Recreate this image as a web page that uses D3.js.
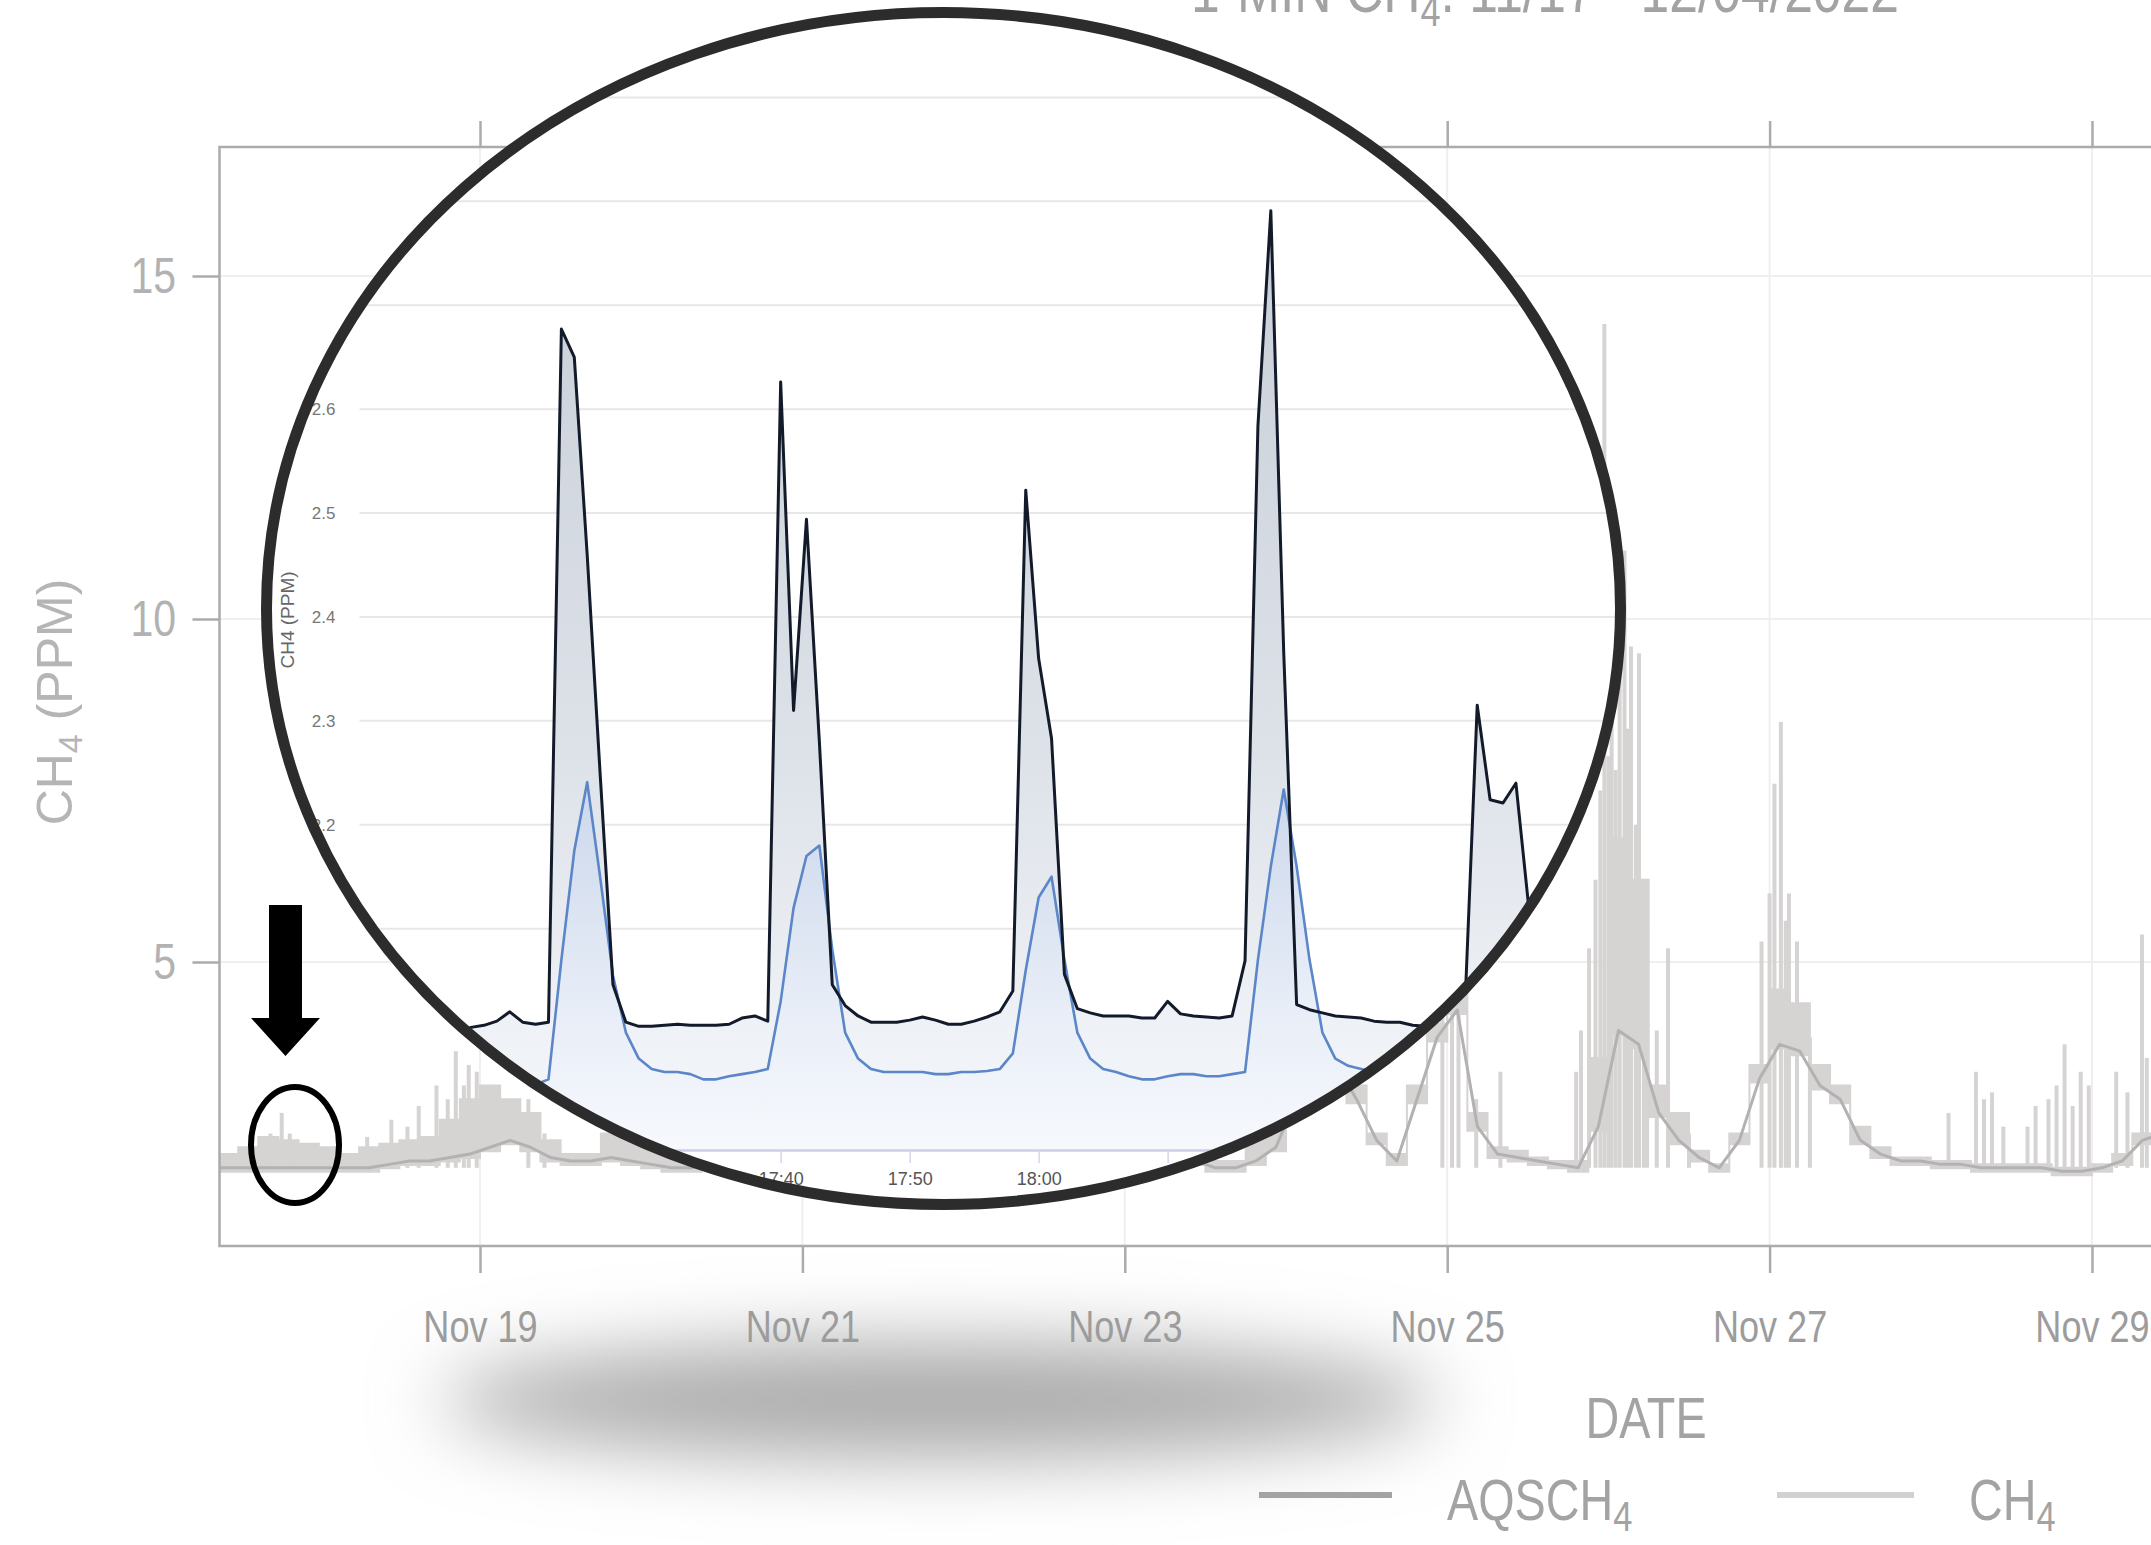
<!DOCTYPE html>
<html>
<head>
<meta charset="utf-8">
<script src="https://cdn.jsdelivr.net/npm/d3@7"></script>
<style>
  body { margin: 0; background: #fff; }
  svg { display: block; }
  text { font-family: "Liberation Sans", Arial, sans-serif; }
</style>
</head>
<body>
<svg id="chart" width="2151" height="1545"></svg>
<script>
// ---- main chart data: 3-hour bins from Nov 17 00:00 (UTC) ----
const aqsch4 = [
  2.0, 2.0, 2.0, 2.0, 2.0, 2.0, 2.0, 2.0,        // Nov 17
  2.0, 2.0, 2.0, 2.05, 2.1, 2.1, 2.15, 2.2,      // Nov 18
  2.3, 2.4, 2.3, 2.15, 2.1, 2.1, 2.15, 2.1,      // Nov 19
  2.05, 2.0, 2.0, 2.05, 2.1, 2.2, 2.3, 2.4,      // Nov 20
  2.6, 2.8, 2.7, 2.5, 2.3, 2.2, 2.2, 2.3,        // Nov 21
  2.5, 2.7, 2.6, 2.4, 2.2, 2.1, 2.1, 2.2,        // Nov 22
  2.3, 2.4, 2.3, 2.1, 2.0, 2.0, 2.1, 2.3,        // Nov 23
  3.0, 3.3, 3.5, 3.0, 2.4, 2.1, 3.0, 3.9,        // Nov 24
  4.3, 2.6, 2.2, 2.15, 2.1, 2.05, 2.0, 2.6,      // Nov 25
  4.0, 3.8, 2.8, 2.4, 2.15, 2.0, 2.4, 3.3,       // Nov 26
  3.8, 3.7, 3.2, 3.0, 2.4, 2.2, 2.1, 2.1,        // Nov 27
  2.05, 2.05, 2.0, 2.0, 2.0, 2.0, 1.95, 1.95,    // Nov 28
  2.0, 2.1, 2.4, 2.5, 2.5, 2.6, 2.6, 2.6         // Nov 29
];
const ch4Top = [
  2.1, 2.1, 2.1, 2.2, 2.3, 2.45, 2.4, 2.35,      // Nov 17
  2.3, 2.2, 2.3, 2.35, 2.4, 2.45, 2.7, 3.0,      // Nov 18
  3.2, 3.0, 2.8, 2.4, 2.2, 2.2, 2.5, 2.4,        // Nov 19
  2.3, 2.2, 2.25, 2.3, 2.5, 2.7, 3.0, 3.4,       // Nov 20
  4.2, 5.0, 4.0, 3.2, 2.7, 2.5, 2.5, 2.8,        // Nov 21
  3.5, 4.0, 3.4, 2.9, 2.5, 2.3, 2.3, 2.5,        // Nov 22
  2.8, 3.0, 2.7, 2.3, 2.1, 2.1, 2.4, 2.9,        // Nov 23
  3.3, 3.6, 3.8, 3.2, 2.5, 2.2, 3.2, 4.1,        // Nov 24
  5.0, 2.8, 2.3, 2.25, 2.15, 2.1, 2.1, 3.6,      // Nov 25
  6.8, 6.2, 3.2, 2.8, 2.25, 2.05, 2.5, 3.5,      // Nov 26
  4.6, 4.4, 3.5, 3.2, 2.6, 2.3, 2.15, 2.15,      // Nov 27
  2.1, 2.1, 2.05, 2.05, 2.05, 2.05, 2.0, 2.0,    // Nov 28
  2.05, 2.2, 2.5, 2.6, 2.6, 2.7, 2.7, 2.7        // Nov 29
];
// narrow CH4 excursions: [day of November, ppm]
const ch4Spikes = [
  [17.7, 2.5], [17.77, 2.8], [17.82, 2.5], [18.3, 2.45], [18.45, 2.7],
  [18.55, 2.6], [18.62, 2.9], [18.73, 3.2], [18.8, 3.0], [18.85, 3.7],
  [18.9, 3.2], [18.93, 3.5], [18.98, 3.4], [19.3, 3.0], [19.4, 2.5],
  [24.97, 5.0], [25.03, 6.5], [25.07, 5.2], [25.18, 3.0], [25.33, 3.4],
  [25.8, 3.4], [25.83, 4.0], [25.88, 5.2], [25.92, 6.2], [25.95, 7.5],
  [25.975, 14.3], [26.0, 8.0], [26.02, 9.4], [26.045, 7.8], [26.07, 10.5],
  [26.1, 11.0], [26.12, 8.4], [26.14, 9.6], [26.17, 7.0], [26.19, 9.5],
  [26.22, 6.2], [26.24, 5.5], [26.3, 4.0], [26.37, 5.2], [26.5, 2.5],
  [26.95, 5.3], [27.0, 6.0], [27.03, 7.6], [27.07, 8.5], [27.1, 5.6],
  [27.12, 6.0], [27.17, 5.3], [27.25, 3.9], [28.11, 2.8], [28.28, 3.4],
  [28.33, 3.0], [28.38, 3.1], [28.45, 2.6], [28.6, 2.6], [28.65, 2.9],
  [28.73, 3.0], [28.78, 3.2], [28.83, 3.8], [28.88, 2.9], [28.93, 3.4],
  [28.98, 3.2], [29.15, 3.4], [29.22, 3.1], [29.31, 5.4], [29.34, 3.6]
];
const xTickDays = [19, 21, 23, 25, 27, 29];
const yTicks = [5, 10, 15];

// ---- inset data: 1-minute values ----
const darkStart = Date.UTC(2022, 11, 4, 17, 14);
const darkSeries = [
  2.003, 2.000, 2.005, 2.007, 2.011, 2.020, 2.010, 2.008, 2.010, 2.677,
  2.650, 2.460, 2.250, 2.046, 2.010, 2.006, 2.006, 2.007, 2.008, 2.007,
  2.007, 2.007, 2.008, 2.014, 2.016, 2.011, 2.626, 2.310, 2.494, 2.280,
  2.046, 2.026, 2.016, 2.010, 2.010, 2.010, 2.012, 2.015, 2.012, 2.008,
  2.008, 2.011, 2.015, 2.020, 2.040, 2.522, 2.360, 2.283, 2.056, 2.023,
  2.019, 2.016, 2.016, 2.016, 2.014, 2.014, 2.030, 2.018, 2.016, 2.015,
  2.014, 2.016, 2.069, 2.584, 2.791, 2.366, 2.027, 2.022, 2.019, 2.016,
  2.015, 2.014, 2.011, 2.010, 2.010, 2.007, 2.006, 2.006, 2.008, 2.010,
  2.315, 2.224, 2.221, 2.240, 2.120, 2.040, 2.020
];
const blueStart = Date.UTC(2022, 11, 4, 17, 20);
const blueSeries = [
  1.950, 1.950, 1.955, 2.070, 2.175, 2.241, 2.150, 2.055, 2.000, 1.975,
  1.965, 1.962, 1.962, 1.960, 1.955, 1.955, 1.958, 1.960, 1.962, 1.965,
  2.030, 2.120, 2.170, 2.180, 2.080, 2.000, 1.975, 1.965, 1.962, 1.962,
  1.962, 1.962, 1.960, 1.960, 1.962, 1.962, 1.963, 1.965, 1.980, 2.060,
  2.130, 2.150, 2.070, 2.000, 1.975, 1.965, 1.962, 1.958, 1.955, 1.955,
  1.958, 1.960, 1.960, 1.958, 1.958, 1.960, 1.962, 2.070, 2.160, 2.234,
  2.160, 2.070, 2.000, 1.975, 1.968, 1.965, 1.962, 1.962, 1.962, 1.960,
  1.960, 1.958, 1.958, 1.960, 1.970, 2.000, 2.030, 2.050, 2.050, 2.030, 2.000
];
const insetYTicks = [1.9, 2.0, 2.1, 2.2, 2.3, 2.4, 2.5, 2.6, 2.7, 2.8, 2.9];

const HOUR = 36e5, MIN = 6e4;
const nov = d => Date.UTC(2022, 10, 1) + (d - 1) * 864e5;
const NARROW = 0.82;   // horizontal squeeze to mimic a condensed face

const svg = d3.select('#chart');
const defs = svg.append('defs');

// condensed text placed at (x, y)
function narrowText(parent, x, y, size, anchor) {
  return parent.append('g')
    .attr('transform', `translate(${x},${y}) scale(${NARROW},1)`)
    .append('text')
    .attr('text-anchor', anchor || 'start')
    .attr('font-size', size);
}

// panel geometry
const pL = 219.5, pT = 147, pB = 1246, pR = 2170;

const x = d3.scaleUtc()
  .domain([nov(19), nov(29)])
  .range([480, 2092]);
const y = d3.scaleLinear()
  .domain([5, 15])
  .range([962, 276]);

defs.append('clipPath').attr('id', 'panelClip')
  .append('rect').attr('x', pL).attr('y', pT).attr('width', pR - pL).attr('height', pB - pT);

// shadow under the magnifier
const blur = defs.append('filter').attr('id', 'blur')
  .attr('x', '-50%').attr('y', '-300%').attr('width', '200%').attr('height', '700%');
blur.append('feGaussianBlur').attr('stdDeviation', 38);
svg.append('ellipse')
  .attr('cx', 940).attr('cy', 1400).attr('rx', 500).attr('ry', 58)
  .attr('fill', '#aaaaaa')
  .attr('filter', 'url(#blur)');

// grid
const grid = svg.append('g').attr('clip-path', 'url(#panelClip)');
grid.selectAll('.vg').data(xTickDays).enter().append('line')
  .attr('x1', d => x(nov(d))).attr('x2', d => x(nov(d)))
  .attr('y1', pT).attr('y2', pB)
  .attr('stroke', '#efefef').attr('stroke-width', 2);
grid.selectAll('.hg').data(yTicks).enter().append('line')
  .attr('x1', pL).attr('x2', pR)
  .attr('y1', d => y(d)).attr('y2', d => y(d))
  .attr('stroke', '#efefef').attr('stroke-width', 2);

// series
const bins = aqsch4.map((v, i) => ({
  t: Date.UTC(2022, 10, 17) + i * 3 * HOUR,
  lo: v,
  hi: Math.max(v, ch4Top[i])
}));
const plot = svg.append('g').attr('clip-path', 'url(#panelClip)');

const ch4Area = d3.area()
  .x(d => x(d.t))
  .y0(d => y(d.lo) + 4)
  .y1(d => y(d.hi))
  .curve(d3.curveStepAfter);
plot.append('path')
  .datum(bins)
  .attr('d', ch4Area)
  .attr('fill', '#d6d3d3')
  .attr('stroke', '#d6d3d3')
  .attr('stroke-width', 2);

plot.selectAll('.spike').data(ch4Spikes).enter().append('line')
  .attr('x1', d => x(nov(d[0]))).attr('x2', d => x(nov(d[0])))
  .attr('y1', y(2.0)).attr('y2', d => y(d[1]))
  .attr('stroke', '#d6d3d3').attr('stroke-width', 4);

const aqsLine = d3.line()
  .x(d => x(d.t + 1.5 * HOUR))
  .y(d => y(d.lo));
plot.append('path')
  .datum(bins)
  .attr('d', aqsLine)
  .attr('fill', 'none')
  .attr('stroke', '#b3b1b1')
  .attr('stroke-width', 3)
  .attr('stroke-linejoin', 'round');

// panel frame
svg.append('rect')
  .attr('x', pL).attr('y', pT).attr('width', pR - pL).attr('height', pB - pT)
  .attr('fill', 'none').attr('stroke', '#ababab').attr('stroke-width', 2.5);

// axes
const tickDates = xTickDays.map(nov);
const axisGrey = '#ababab';

const xAxis = svg.append('g')
  .attr('transform', `translate(0,${pB})`)
  .call(d3.axisBottom(x).tickValues(tickDates).tickSize(27).tickPadding(38)
    .tickFormat(d3.utcFormat('%b %d')));
const xTop = svg.append('g')
  .attr('transform', `translate(0,${pT})`)
  .call(d3.axisTop(x).tickValues(tickDates).tickSize(26).tickFormat(''));
const yAxis = svg.append('g')
  .attr('transform', `translate(${pL},0)`)
  .call(d3.axisLeft(y).tickValues(yTicks).tickSize(27).tickPadding(26));

[xAxis, xTop, yAxis].forEach(g => {
  g.select('.domain').remove();
  g.selectAll('.tick line').attr('stroke', axisGrey).attr('stroke-width', 2.5);
});
xAxis.selectAll('text')
  .attr('font-family', '"Liberation Sans", Arial, sans-serif')
  .attr('font-size', 44)
  .attr('fill', '#9c9c9c')
  .attr('transform', `scale(${NARROW},1)`);
yAxis.selectAll('text')
  .attr('font-family', '"Liberation Sans", Arial, sans-serif')
  .attr('font-size', 50)
  .attr('fill', '#b2b2b2')
  .attr('transform', `scale(${NARROW},1)`);

// axis titles
narrowText(svg, 1646, 1438, 57, 'middle')
  .attr('fill', '#a3a3a3')
  .text('DATE');

const yTitle = svg.append('text')
  .attr('transform', 'translate(72,702) rotate(-90)')
  .attr('text-anchor', 'middle')
  .attr('font-size', 50)
  .attr('fill', '#b5b5b5');
yTitle.append('tspan').text('CH');
yTitle.append('tspan').attr('font-size', 34).attr('dy', 10).text('4');
yTitle.append('tspan').attr('dy', -10).text(' (PPM)');

// title (cut at the top edge, as in the source picture)
const title = narrowText(svg, 1545, 12, 63, 'middle').attr('fill', '#a3a3a3');
title.append('tspan').text('1-MIN CH');
title.append('tspan').attr('font-size', 44).attr('dy', 14).text('4');
title.append('tspan').attr('dy', -14).text(': 11/17 - 12/04/2022');

// legend
const legend = [
  { name: 'AQSCH', color: '#a3a3a3', x1: 1259, x2: 1392, tx: 1447 },
  { name: 'CH', color: '#d2d0d0', x1: 1777, x2: 1914, tx: 1969 }
];
legend.forEach(l => {
  svg.append('line')
    .attr('x1', l.x1).attr('x2', l.x2).attr('y1', 1495).attr('y2', 1495)
    .attr('stroke', l.color).attr('stroke-width', 6);
  const t = narrowText(svg, l.tx, 1520, 57).attr('fill', '#a3a3a3');
  t.append('tspan').text(l.name);
  t.append('tspan').attr('font-size', 42).attr('dy', 11).text('4');
});

// ---- magnified inset ----
const ex = 943.5, ey = 608.5, erx = 677, ery = 596;
defs.append('clipPath').attr('id', 'lensClip')
  .append('ellipse').attr('cx', ex).attr('cy', ey).attr('rx', erx).attr('ry', ery);

const gradDark = defs.append('linearGradient').attr('id', 'gradDark')
  .attr('gradientUnits', 'userSpaceOnUse').attr('x1', 0).attr('x2', 0).attr('y1', 150).attr('y2', 1150);
gradDark.append('stop').attr('offset', 0).attr('stop-color', '#c6ccd5');
gradDark.append('stop').attr('offset', 0.6).attr('stop-color', '#dde2e9');
gradDark.append('stop').attr('offset', 1).attr('stop-color', '#f6f8fb');
const gradBlue = defs.append('linearGradient').attr('id', 'gradBlue')
  .attr('gradientUnits', 'userSpaceOnUse').attr('x1', 0).attr('x2', 0).attr('y1', 780).attr('y2', 1150);
gradBlue.append('stop').attr('offset', 0).attr('stop-color', '#c8d5ec');
gradBlue.append('stop').attr('offset', 0.6).attr('stop-color', '#e6ecf7');
gradBlue.append('stop').attr('offset', 1).attr('stop-color', '#f7f9fd');

const inset = svg.append('g').attr('clip-path', 'url(#lensClip)');
inset.append('ellipse')
  .attr('cx', ex).attr('cy', ey).attr('rx', erx).attr('ry', ery)
  .attr('fill', '#fff');

const xIn = d3.scaleUtc()
  .domain([Date.UTC(2022, 11, 4, 17, 7), Date.UTC(2022, 11, 4, 18, 46)])
  .range([355, 1632]);
const yIn = d3.scaleLinear()
  .domain([1.887, 3.0])
  .range([1150, -6.5]);
const inL = 359.5, inR = 1640, inB = 1150;

inset.selectAll('.ig').data(insetYTicks).enter().append('line')
  .attr('x1', inL).attr('x2', inR)
  .attr('y1', d => yIn(d)).attr('y2', d => yIn(d))
  .attr('stroke', '#e7e7e7').attr('stroke-width', 2);

const darkPts = darkSeries.map((v, i) => ({ t: darkStart + i * MIN, v }));
const bluePts = blueSeries.map((v, i) => ({ t: blueStart + i * MIN, v }));

const inArea = d3.area().x(d => xIn(d.t)).y0(inB).y1(d => yIn(d.v));
const inLine = d3.line().x(d => xIn(d.t)).y(d => yIn(d.v));

inset.append('path').datum(darkPts).attr('d', inArea).attr('fill', 'url(#gradDark)');
inset.append('path').datum(bluePts).attr('d', inArea).attr('fill', 'url(#gradBlue)').attr('fill-opacity', 0.85);
inset.append('path').datum(bluePts).attr('d', inLine)
  .attr('fill', 'none').attr('stroke', '#5b86c7').attr('stroke-width', 2.6).attr('stroke-linejoin', 'round');
inset.append('path').datum(darkPts).attr('d', inLine)
  .attr('fill', 'none').attr('stroke', '#131b2a').attr('stroke-width', 3).attr('stroke-linejoin', 'round');

// inset axes
const inX = inset.append('g')
  .attr('transform', `translate(0,${inB})`)
  .call(d3.axisBottom(xIn).ticks(d3.utcMinute.every(10)).tickSize(13).tickPadding(9)
    .tickFormat(d3.utcFormat('%H:%M')));
inX.select('.domain').attr('stroke', '#cbcfe6').attr('stroke-width', 2.5);
inX.selectAll('.tick line').attr('stroke', '#d4d7ea').attr('stroke-width', 1.5);
inX.selectAll('text')
  .attr('font-family', '"Liberation Sans", Arial, sans-serif')
  .attr('font-size', 18).attr('fill', '#555');

const inY = inset.append('g')
  .attr('transform', `translate(${inL},0)`)
  .call(d3.axisLeft(yIn).tickValues(insetYTicks).tickSize(0).tickPadding(24)
    .tickFormat(d3.format('.1f')));
inY.select('.domain').remove();
inY.selectAll('text')
  .attr('font-family', '"Liberation Sans", Arial, sans-serif')
  .attr('font-size', 17).attr('fill', '#777');

inset.append('text')
  .attr('transform', 'translate(294,620) rotate(-90)')
  .attr('text-anchor', 'middle')
  .attr('font-size', 19)
  .attr('fill', '#666')
  .text('CH4 (PPM)');

// lens rim
svg.append('ellipse')
  .attr('cx', ex).attr('cy', ey).attr('rx', erx).attr('ry', ery)
  .attr('fill', 'none').attr('stroke', '#2c2c2c').attr('stroke-width', 11);

// pointer arrow and marker ring
svg.append('path')
  .attr('d', 'M269,905 L302,905 L302,1018 L320,1018 L285.5,1056 L251,1018 L269,1018 Z')
  .attr('fill', '#000');
svg.append('ellipse')
  .attr('cx', 295).attr('cy', 1145).attr('rx', 44).attr('ry', 58)
  .attr('fill', 'none').attr('stroke', '#000').attr('stroke-width', 6);
</script>
</body>
</html>
